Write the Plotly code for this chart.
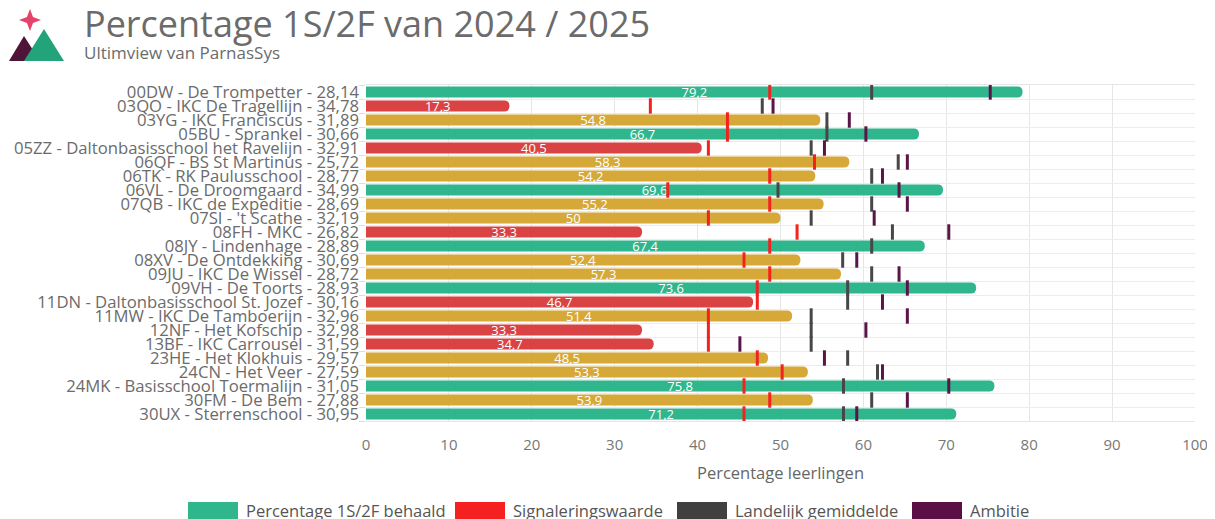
import plotly.graph_objects as go

scholen = [
    "00DW - De Trompetter - 28,14",
    "03QO - IKC De Tragellijn - 34,78",
    "03YG - IKC Franciscus - 31,89",
    "05BU - Sprankel - 30,66",
    "05ZZ - Daltonbasisschool het Ravelijn - 32,91",
    "06QF - BS St Martinus - 25,72",
    "06TK - RK Paulusschool - 28,77",
    "06VL - De Droomgaard - 34,99",
    "07QB - IKC de Expeditie - 28,69",
    "07SI - 't Scathe - 32,19",
    "08FH - MKC - 26,82",
    "08JY - Lindenhage - 28,89",
    "08XV - De Ontdekking - 30,69",
    "09JU - IKC De Wissel - 28,72",
    "09VH - De Toorts - 28,93",
    "11DN - Daltonbasisschool St. Jozef - 30,16",
    "11MW - IKC De Tamboerijn - 32,96",
    "12NF - Het Kofschip - 32,98",
    "13BF - IKC Carrousel - 31,59",
    "23HE - Het Klokhuis - 29,57",
    "24CN - Het Veer - 27,59",
    "24MK - Basisschool Toermalijn - 31,05",
    "30FM - De Bem - 27,88",
    "30UX - Sterrenschool - 30,95",
]
behaald = [79.2, 17.3, 54.8, 66.7, 40.5, 58.3, 54.2, 69.6, 55.2, 50.0, 33.3, 67.4,
           52.4, 57.3, 73.6, 46.7, 51.4, 33.3, 34.7, 48.5, 53.3, 75.8, 53.9, 71.2]
signalering = [48.7, 34.3, 43.6, 43.6, 41.3, 54.1, 48.7, 36.4, 48.7, 41.3, 52.0, 48.7,
               45.6, 48.7, 47.2, 47.2, 41.3, 41.3, 41.3, 47.2, 50.2, 45.6, 48.7, 45.6]
landelijk = [61.0, 47.8, 55.6, 55.6, 53.7, 64.2, 61.0, 49.7, 61.0, 53.7, 63.5, 61.0,
             57.5, 61.0, 58.1, 58.1, 53.7, 53.7, 53.7, 58.1, 61.7, 57.6, 61.0, 57.6]
ambitie = [75.3, 49.1, 58.3, 60.3, 55.3, 65.3, 62.3, 64.3, 65.3, 61.3, 70.3, None,
           59.2, 64.3, 65.3, 62.3, 65.3, 60.3, 45.1, 55.3, 62.3, 70.3, 65.3, 59.2]

GROEN = "#2fb68c"
ROOD_BAR = "#d94343"
GEEL = "#d6a838"
ROOD = "#f2231f"
GRIJS = "#474747"
PAARS = "#5a1447"


def bar_kleur(v, s, l):
    if v < s:
        return ROOD_BAR
    if v < l:
        return GEEL
    return GROEN


kleuren = [bar_kleur(v, s, l) for v, s, l in zip(behaald, signalering, landelijk)]
labels = [f"{v:g}".replace(".", ",") for v in behaald]

fig = go.Figure()
fig.add_trace(go.Bar(
    x=behaald, y=scholen, orientation="h", marker=dict(color=kleuren, line=dict(width=0)),
    text=labels, textposition="inside", insidetextanchor="middle", textangle=0,
    textfont=dict(color="white", size=13), showlegend=False, hoverinfo="x+y",
))
for vals, kleur in [(signalering, ROOD), (landelijk, GRIJS), (ambitie, PAARS)]:
    fig.add_trace(go.Scatter(
        x=vals, y=scholen, mode="markers", showlegend=False,
        marker=dict(symbol="line-ns", size=11, line=dict(width=3, color=kleur)),
    ))

# the page puts the figure 8px from the top-left corner
OFF = 8
W, H = 1215 - OFF, 519 - OFF
# plot area in page pixels
L, R, T, B = 366 - OFF, 1195 - OFF, 85 - OFF, 421 - OFF


def px(x, y):
    # page pixel -> paper coordinates
    x -= OFF
    y -= OFF
    return (x - L) / (R - L), (B - y) / (B - T)


shapes = []
annotations = []
# legend, drawn by hand for the wide swatches
legenda = [(188, GROEN, "Percentage 1S/2F behaald"), (455, "#f52020", "Signaleringswaarde"),
           (677, "#404040", "Landelijk gemiddelde"), (912, "#5a0f45", "Ambitie")]
for x0, kleur, naam in legenda:
    a = px(x0, 502)
    b = px(x0 + 50, 524)
    shapes.append(dict(type="rect", xref="paper", yref="paper", x0=a[0], x1=b[0], y0=b[1], y1=a[1],
                       fillcolor=kleur, line=dict(width=0)))
    t = px(x0 + 56, 510)
    annotations.append(dict(xref="paper", yref="paper", x=t[0], y=t[1], text=naam, showarrow=False,
                            xanchor="left", yanchor="middle", font=dict(size=16.5, color="#555")))

# logo
def pad(punten):
    s = ""
    for i, (x, y) in enumerate(punten):
        a = px(x, y)
        s += ("M" if i == 0 else "L") + f"{a[0]:.5f},{a[1]:.5f} "
    return s + "Z"


shapes.append(dict(type="path", xref="paper", yref="paper", path=pad([(9, 61), (24, 36), (40, 61)]),
                   fillcolor="#4f1538", line=dict(width=0)))
shapes.append(dict(type="path", xref="paper", yref="paper", path=pad([(24, 61), (44, 29), (64, 61)]),
                   fillcolor="#22a37a", line=dict(width=0)))
shapes.append(dict(type="path", xref="paper", yref="paper",
                   path=pad([(30, 9), (33, 17), (41, 20), (33, 23), (30, 31), (27, 23), (19, 20), (27, 17)]),
                   fillcolor="#e5436a", line=dict(width=0)))

t = px(82, 24)
annotations.append(dict(xref="paper", yref="paper", x=t[0], y=t[1], text="Percentage 1S/2F van 2024 / 2025",
                        showarrow=False, xanchor="left", yanchor="middle",
                        font=dict(size=36, color="#6b6b6b")))
t = px(82, 53)
annotations.append(dict(xref="paper", yref="paper", x=t[0], y=t[1], text="Ultimview van ParnasSys",
                        showarrow=False, xanchor="left", yanchor="middle",
                        font=dict(size=17, color="#6b6b6b")))

fig.update_layout(
    width=W, height=H,
    margin=dict(l=L, r=W - R, t=T, b=H - B, autoexpand=False),
    paper_bgcolor="white", plot_bgcolor="white",
    font=dict(family="Open Sans", color="#6b6b6b"),
    bargap=0.2,
    barcornerradius=6,
    uniformtext=dict(minsize=13, mode="show"),
    shapes=shapes, annotations=annotations,
    xaxis=dict(range=[0, 100], dtick=10, showgrid=True, gridcolor="#e6e6e6", zeroline=False,
               tickfont=dict(size=15, color="#777"), ticks="", ticklabelstandoff=10, automargin=False,
               title=dict(text="Percentage leerlingen", font=dict(size=16.5, color="#666"), standoff=14),
               showline=True, linecolor="#e6e6e6", mirror=True),
    yaxis=dict(range=[len(scholen) - 0.5, -0.5], type="category", tickmode="array", tickvals=scholen,
               tickson="boundaries", showgrid=True, automargin=False,
               gridcolor="#ececec", ticks="outside", ticklen=6, tickcolor="#dddddd",
               ticklabelstandoff=6, tickfont=dict(size=16.7, color="#6b6b6b")),
)

fig.write_html("out.html")
